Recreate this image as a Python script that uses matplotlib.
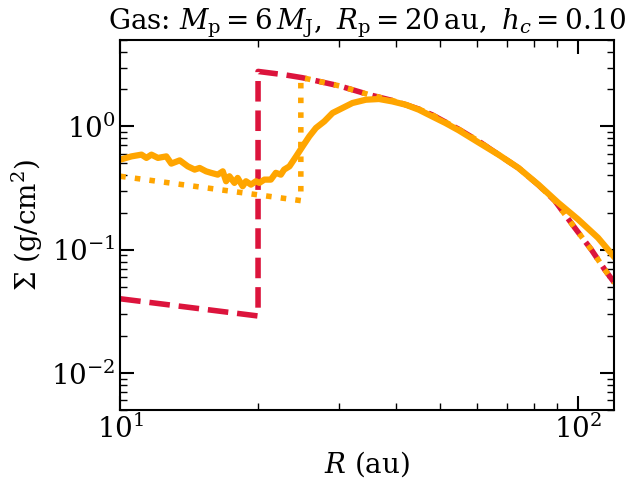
import matplotlib
matplotlib.use("Agg")
import matplotlib.pyplot as plt

plt.rcParams['font.family'] = 'serif'
plt.rcParams['font.serif'] = ['DejaVu Serif']
plt.rcParams['mathtext.fontset'] = 'dejavuserif'

# Model with deep gap (crimson dashed)
r_deep = [10, 20, 20, 22.85, 25, 30.1, 34.9, 39.3, 42.7, 44.9, 48.0, 54.8, 60.6, 67.0,
          74.1, 81.9, 88.9, 98.4, 106.9, 114.3, 120]
s_deep = [0.040, 0.029, 2.79, 2.62, 2.48, 2.13, 1.81, 1.62, 1.47, 1.38, 1.24, 0.95, 0.76,
          0.59, 0.46, 0.335, 0.25, 0.150, 0.100, 0.069, 0.054]

# Model with shallow gap (orange dotted)
r_shallow = [10, 24.8, 24.8, 25, 30.1, 34.9, 39.3, 42.7, 44.9, 48.0, 54.8, 60.6, 67.0,
             74.1, 81.9, 88.9, 98.4, 106.9, 114.3, 120]
s_shallow = [0.394, 0.25, 2.47, 2.48, 2.13, 1.81, 1.62, 1.47, 1.38, 1.24, 0.95, 0.76,
             0.59, 0.46, 0.335, 0.25, 0.150, 0.100, 0.069, 0.054]

# Simulation (orange solid)
r_sim = [10.0, 10.58, 11.13, 11.41, 11.70, 12.09, 12.61, 12.93, 13.49, 14.05, 14.54,
         14.91, 15.40, 15.79, 16.33, 16.75, 17.03, 17.32, 17.76, 18.05, 18.51, 18.82,
         19.30, 19.79, 20.13, 20.64, 21.33, 21.87, 22.43, 22.80, 23.42, 24.22, 25.03,
         25.88, 26.76, 27.91, 29.09, 30.58, 32.15, 34.39, 36.75, 39.28, 42.01, 44.89,
         47.99, 51.31, 54.83, 60.62, 67.0, 74.1, 81.9, 90.5, 100.0, 110.5, 120.0]
s_sim = [0.537, 0.571, 0.590, 0.555, 0.590, 0.555, 0.571, 0.499, 0.530, 0.474, 0.446,
         0.460, 0.432, 0.420, 0.406, 0.432, 0.359, 0.394, 0.348, 0.382, 0.327, 0.359,
         0.337, 0.359, 0.348, 0.370, 0.370, 0.420, 0.406, 0.446, 0.474, 0.571, 0.689,
         0.830, 0.971, 1.098, 1.284, 1.409, 1.547, 1.645, 1.667, 1.594, 1.499, 1.365,
         1.205, 1.065, 0.930, 0.740, 0.590, 0.460, 0.337, 0.240, 0.176, 0.125, 0.087]

fig = plt.figure(figsize=(6.36, 4.90), dpi=100)
ax = fig.add_axes([0.189, 0.163, 0.777, 0.755])

ax.plot(r_deep, s_deep, color='crimson', ls='--', lw=4)
ax.plot(r_shallow, s_shallow, color='orange', ls=':', lw=4)
ax.plot(r_sim, s_sim, color='orange', ls='-', lw=4.5)

ax.set_xscale('log')
ax.set_yscale('log')
ax.set_xlim(10, 120)
ax.set_ylim(5e-3, 5)

ax.tick_params(which='both', direction='in', top=True, right=True, labelsize=20)
ax.tick_params(which='major', length=10, width=1.5)
ax.tick_params(which='minor', length=5, width=1.0)
for sp in ax.spines.values():
    sp.set_linewidth(1.5)

ax.set_xlabel(r'$R$ (au)', fontsize=20)
ax.set_ylabel(r'$\Sigma\ ({\rm g/cm^2})$', fontsize=20)
ax.set_title(r'Gas: $M_{\rm p} = 6\,M_{\rm J},\ R_{\rm p} = 20\,{\rm au},\ h_c = 0.10$',
             fontsize=20, pad=6)

fig.savefig('out.png', dpi=100)
